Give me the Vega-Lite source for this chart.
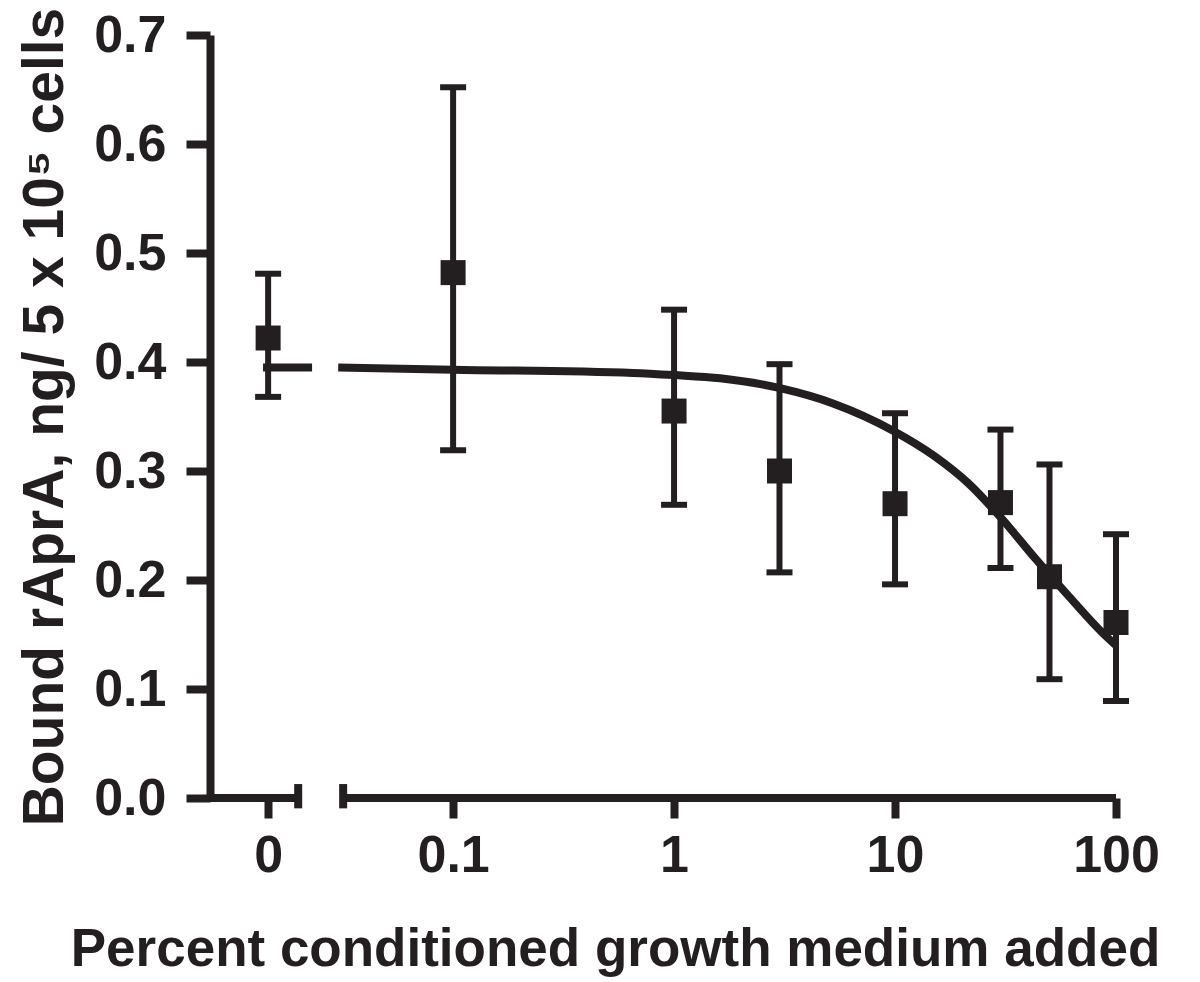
{
  "$schema": "https://vega.github.io/schema/vega-lite/v6.json",
  "width": 906,
  "height": 763,
  "autosize": {"type": "none"},
  "padding": {"left": 210, "top": 35, "right": 84, "bottom": 184},
  "background": "white",
  "config": {
    "view": {"stroke": null},
    "font": "Liberation Sans",
    "axis": {"grid": false}
  },
  "datasets": {
    "points": [
      {"dose": 0.01455, "mean": 0.422, "lo": 0.368, "hi": 0.481},
      {"dose": 0.1, "mean": 0.482, "lo": 0.319, "hi": 0.652},
      {"dose": 1, "mean": 0.355, "lo": 0.269, "hi": 0.448},
      {"dose": 3, "mean": 0.300, "lo": 0.207, "hi": 0.398},
      {"dose": 10, "mean": 0.270, "lo": 0.196, "hi": 0.353},
      {"dose": 30, "mean": 0.271, "lo": 0.211, "hi": 0.338},
      {"dose": 50, "mean": 0.203, "lo": 0.109, "hi": 0.306},
      {"dose": 100, "mean": 0.161, "lo": 0.089, "hi": 0.242}
    ],
    "curve": [
      {"seg": "a", "dose": 0.0138, "fit": 0.395},
      {"seg": "a", "dose": 0.0230, "fit": 0.395},
      {"seg": "b", "dose": 0.0302, "fit": 0.395},
      {"seg": "b", "dose": 0.1, "fit": 0.393},
      {"seg": "b", "dose": 0.652, "fit": 0.390},
      {"seg": "b", "dose": 1.0, "fit": 0.388},
      {"seg": "b", "dose": 1.615, "fit": 0.385},
      {"seg": "b", "dose": 3.02, "fit": 0.376},
      {"seg": "b", "dose": 5.24, "fit": 0.362},
      {"seg": "b", "dose": 9.8, "fit": 0.337},
      {"seg": "b", "dose": 15.0, "fit": 0.314},
      {"seg": "b", "dose": 21.4, "fit": 0.289},
      {"seg": "b", "dose": 30.2, "fit": 0.257},
      {"seg": "b", "dose": 43.0, "fit": 0.220},
      {"seg": "b", "dose": 61.2, "fit": 0.185},
      {"seg": "b", "dose": 87.4, "fit": 0.151},
      {"seg": "b", "dose": 100, "fit": 0.140}
    ],
    "xaxis": [
      {"from": 0.00794, "to": 0.0199, "y": 0},
      {"from": 0.0318, "to": 100, "y": 0}
    ],
    "breaks": [
      {"at": 0.0199, "lo": -0.0095, "hi": 0.0128},
      {"at": 0.0318, "lo": -0.0095, "hi": 0.0128}
    ]
  },
  "layer": [
    {
      "data": {"name": "xaxis"},
      "mark": {"type": "rule", "strokeWidth": 8, "color": "#231f20"},
      "encoding": {
        "x": {"field": "from", "type": "quantitative", "title": "Percent conditioned growth medium added",
          "scale": {"type": "log", "domain": [0.00794, 100], "nice": false},
          "axis": {
            "domain": false,
            "values": [0.01455, 0.1, 1, 10, 100],
            "labelExpr": "datum.value < 0.05 ? '0' : format(datum.value, '~g')",
            "tickSize": 20, "tickWidth": 8, "tickColor": "#231f20",
            "labelFont": "Liberation Sans", "labelFontWeight": "bold", "labelFontSize": 52, "labelColor": "#231f20",
            "labelPadding": 12, "labelFlush": false, "labelOverlap": false,
            "titleFont": "Liberation Sans", "titleFontWeight": "bold", "titleFontSize": 53, "titleColor": "#231f20",
            "titlePadding": 42, "titleX": 405
          }},
        "x2": {"field": "to"},
        "y": {"field": "y", "type": "quantitative", "title": "Bound rAprA, ng/ 5 x 10⁵ cells",
          "scale": {"domain": [0, 0.7], "nice": false, "zero": false},
          "axis": {
            "values": [0, 0.1, 0.2, 0.3, 0.4, 0.5, 0.6, 0.7],
            "format": ".1f",
            "domainWidth": 8, "domainColor": "#231f20",
            "tickSize": 24, "tickWidth": 8, "tickColor": "#231f20",
            "labelFont": "Liberation Sans", "labelFontWeight": "bold", "labelFontSize": 52, "labelColor": "#231f20",
            "labelPadding": 20,
            "titleFont": "Liberation Sans", "titleFontWeight": "bold", "titleFontSize": 57, "titleColor": "#231f20",
            "titlePadding": 19
          }}
      }
    },
    {
      "data": {"name": "breaks"},
      "mark": {"type": "rule", "strokeWidth": 8, "color": "#231f20"},
      "encoding": {
        "x": {"field": "at", "type": "quantitative", "title": "Percent conditioned growth medium added"},
        "y": {"field": "lo", "type": "quantitative", "title": "Bound rAprA, ng/ 5 x 10⁵ cells"},
        "y2": {"field": "hi"}
      }
    },
    {
      "data": {"name": "curve"},
      "mark": {"type": "line", "strokeWidth": 8, "color": "#231f20", "interpolate": "monotone"},
      "encoding": {
        "x": {"field": "dose", "type": "quantitative", "title": "Percent conditioned growth medium added"},
        "y": {"field": "fit", "type": "quantitative", "title": "Bound rAprA, ng/ 5 x 10⁵ cells"},
        "detail": {"field": "seg"}
      }
    },
    {
      "data": {"name": "points"},
      "mark": {"type": "rule", "strokeWidth": 6, "color": "#231f20"},
      "encoding": {
        "x": {"field": "dose", "type": "quantitative", "title": "Percent conditioned growth medium added"},
        "y": {"field": "lo", "type": "quantitative", "title": "Bound rAprA, ng/ 5 x 10⁵ cells"},
        "y2": {"field": "hi"}
      }
    },
    {
      "data": {"name": "points"},
      "mark": {"type": "tick", "orient": "horizontal", "size": 26, "thickness": 6, "opacity": 1, "color": "#231f20"},
      "encoding": {
        "x": {"field": "dose", "type": "quantitative", "title": "Percent conditioned growth medium added"},
        "y": {"field": "lo", "type": "quantitative", "title": "Bound rAprA, ng/ 5 x 10⁵ cells"}
      }
    },
    {
      "data": {"name": "points"},
      "mark": {"type": "tick", "orient": "horizontal", "size": 26, "thickness": 6, "opacity": 1, "color": "#231f20"},
      "encoding": {
        "x": {"field": "dose", "type": "quantitative", "title": "Percent conditioned growth medium added"},
        "y": {"field": "hi", "type": "quantitative", "title": "Bound rAprA, ng/ 5 x 10⁵ cells"}
      }
    },
    {
      "data": {"name": "points"},
      "mark": {"type": "square", "size": 625, "filled": true, "opacity": 1, "color": "#231f20"},
      "encoding": {
        "x": {"field": "dose", "type": "quantitative", "title": "Percent conditioned growth medium added"},
        "y": {"field": "mean", "type": "quantitative", "title": "Bound rAprA, ng/ 5 x 10⁵ cells"}
      }
    }
  ]
}
